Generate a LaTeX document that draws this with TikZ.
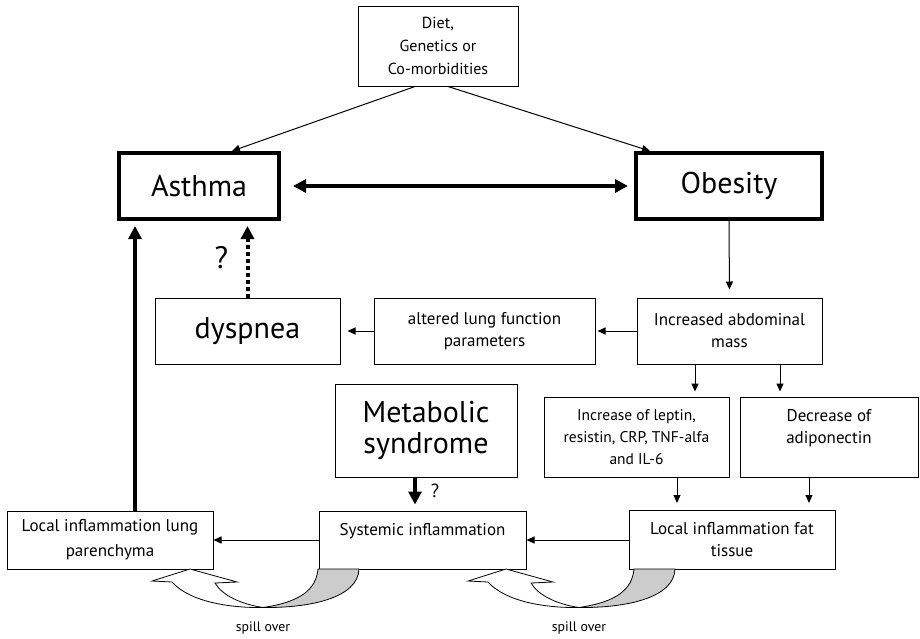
\documentclass[tikz,border=0pt]{standalone}
\usepackage{fontspec}
\setmainfont{PT Sans}
\usetikzlibrary{arrows.meta}

\tikzset{
    box/.style = {draw, line width=1pt, align=center, inner sep=0pt, font=\fontsize{17}{22}\selectfont},
    bigbox/.style = {box, line width=4pt, font=\fontsize{30}{31}\selectfont},
    link/.style = {line width=1pt, -{Triangle[length=8pt,width=7pt]}},
    heavy/.style = {line width=4pt, -{Triangle[length=13pt,width=13pt]}},
    spilltext/.style = {font=\fontsize{13.8}{15}\selectfont}
}

\begin{document}
\begin{tikzpicture}[x=1pt, y=-1pt]
    \useasboundingbox (0,0) rectangle (920,638);

    \node[box, font=\fontsize{16}{23}\selectfont, minimum width=160pt, minimum height=80pt](diet) at (438,46) {Diet,\\Genetics or\\Co-morbidities};

    \node[bigbox, minimum width=160pt, minimum height=66pt](asthma) at (199,186) {Asthma};
    \node[bigbox, minimum width=186pt, minimum height=66pt](obesity) at (729,186) {Obesity};

    \node[box, font=\fontsize{30}{31}\selectfont, minimum width=185pt, minimum height=66pt](dyspnea) at (247.5,331) {dyspnea};
    \node[box, minimum width=221pt, minimum height=66pt](altered) at (484.5,331) {altered lung function\\parameters};
    \node[box, minimum width=185pt, minimum height=66pt](abdominal) at (729.5,331) {Increased abdominal\\mass};

    \node[box, font=\fontsize{30}{31}\selectfont, minimum width=182pt, minimum height=93pt](metabolic) at (426,430.5) {Metabolic\\syndrome};
    \node[box, font=\fontsize{15.5}{22}\selectfont, minimum width=185pt, minimum height=80pt](leptin) at (636.5,437) {Increase of leptin,\\resistin, CRP, TNF-alfa\\and IL-6};
    \node[box, minimum width=178pt, minimum height=80pt](adipo) at (829,437) {Decrease of\\adiponectin\\\mbox{}};

    \node[box, font=\fontsize{17}{25}\selectfont, minimum width=206pt, minimum height=58pt](lunginfl) at (110,540) {Local inflammation lung\\parenchyma};
    \node[box, minimum width=207pt, minimum height=58pt](systemic) at (422.5,540) {Systemic inflammation\\\mbox{}};
    \node[box, minimum width=206pt, minimum height=59pt](fatinfl) at (732,540) {Local inflammation fat\\tissue};

    % causes
    \draw[link]([xshift=-23pt]diet.south) -- ([xshift=33pt]asthma.north);
    \draw[link]([xshift=10pt]diet.south) -- ([xshift=-79pt]obesity.north);

    \draw[heavy, {Triangle[length=13pt,width=13pt]}-{Triangle[length=13pt,width=13pt]}, shorten <=12pt, shorten >=6pt](asthma.east) -- (obesity.west);

    % obesity branch
    \draw[link, shorten >=8pt](obesity.south) -- (abdominal.north);
    \draw[link, shorten >=2pt](abdominal.west) -- (altered.east);
    \draw[link, shorten >=7pt](altered.west) -- (dyspnea.east);
    \draw[heavy, dash pattern=on 4pt off 3pt, shorten >=5pt](dyspnea.north) -- (dyspnea.north |- asthma.south)
        node[midway, xshift=-26pt, yshift=2pt, font=\fontsize{31}{31}\selectfont] {?};

    \draw[link, shorten >=5pt]([xshift=-34.5pt]abdominal.south) -- ([xshift=-34.5pt]abdominal.south |- leptin.north);
    \draw[link, shorten >=5pt]([xshift=50.5pt]abdominal.south) -- ([xshift=50.5pt]abdominal.south |- adipo.north);
    \draw[link, shorten >=7pt]([xshift=40.5pt]leptin.south) -- ([xshift=40.5pt]leptin.south |- fatinfl.north);
    \draw[link, shorten >=7pt]([xshift=-20pt]adipo.south) -- ([xshift=-20pt]adipo.south |- fatinfl.north);

    % inflammation chain
    \draw[heavy, shorten >=6pt]([xshift=-11pt]metabolic.south) -- ([xshift=-11pt]metabolic.south |- systemic.north)
        node[midway, xshift=20pt, yshift=3pt, font=\fontsize{19}{20}\selectfont] {?};
    \draw[link](fatinfl.west) -- (systemic.east);
    \draw[link](systemic.west) -- (lunginfl.east);
    \draw[heavy, shorten >=5pt]([xshift=25pt]lunginfl.north) -- ([xshift=25pt]lunginfl.north |- asthma.south);

    % spill over
    \foreach \dx in {0,316} {
        \begin{scope}[xshift=\dx]
            \draw[fill=white, line width=0.8pt] (190,569) -- (152,581) -- (172,582)
                .. controls (190,602) and (230,608) .. (263,607.5)
                .. controls (240,604) and (222,595) .. (215,583) -- (237,582) -- cycle;
            \draw[fill=black!20, line width=0.8pt] (263,607.5)
                .. controls (310,608) and (358,598) .. (359,569) -- (318,569)
                .. controls (316,590) and (300,602) .. (263,607.5) -- cycle;
        \end{scope}
        \node[spilltext](spill\dx) at (263+\dx,628) {spill over};
    }
\end{tikzpicture}
\end{document}
